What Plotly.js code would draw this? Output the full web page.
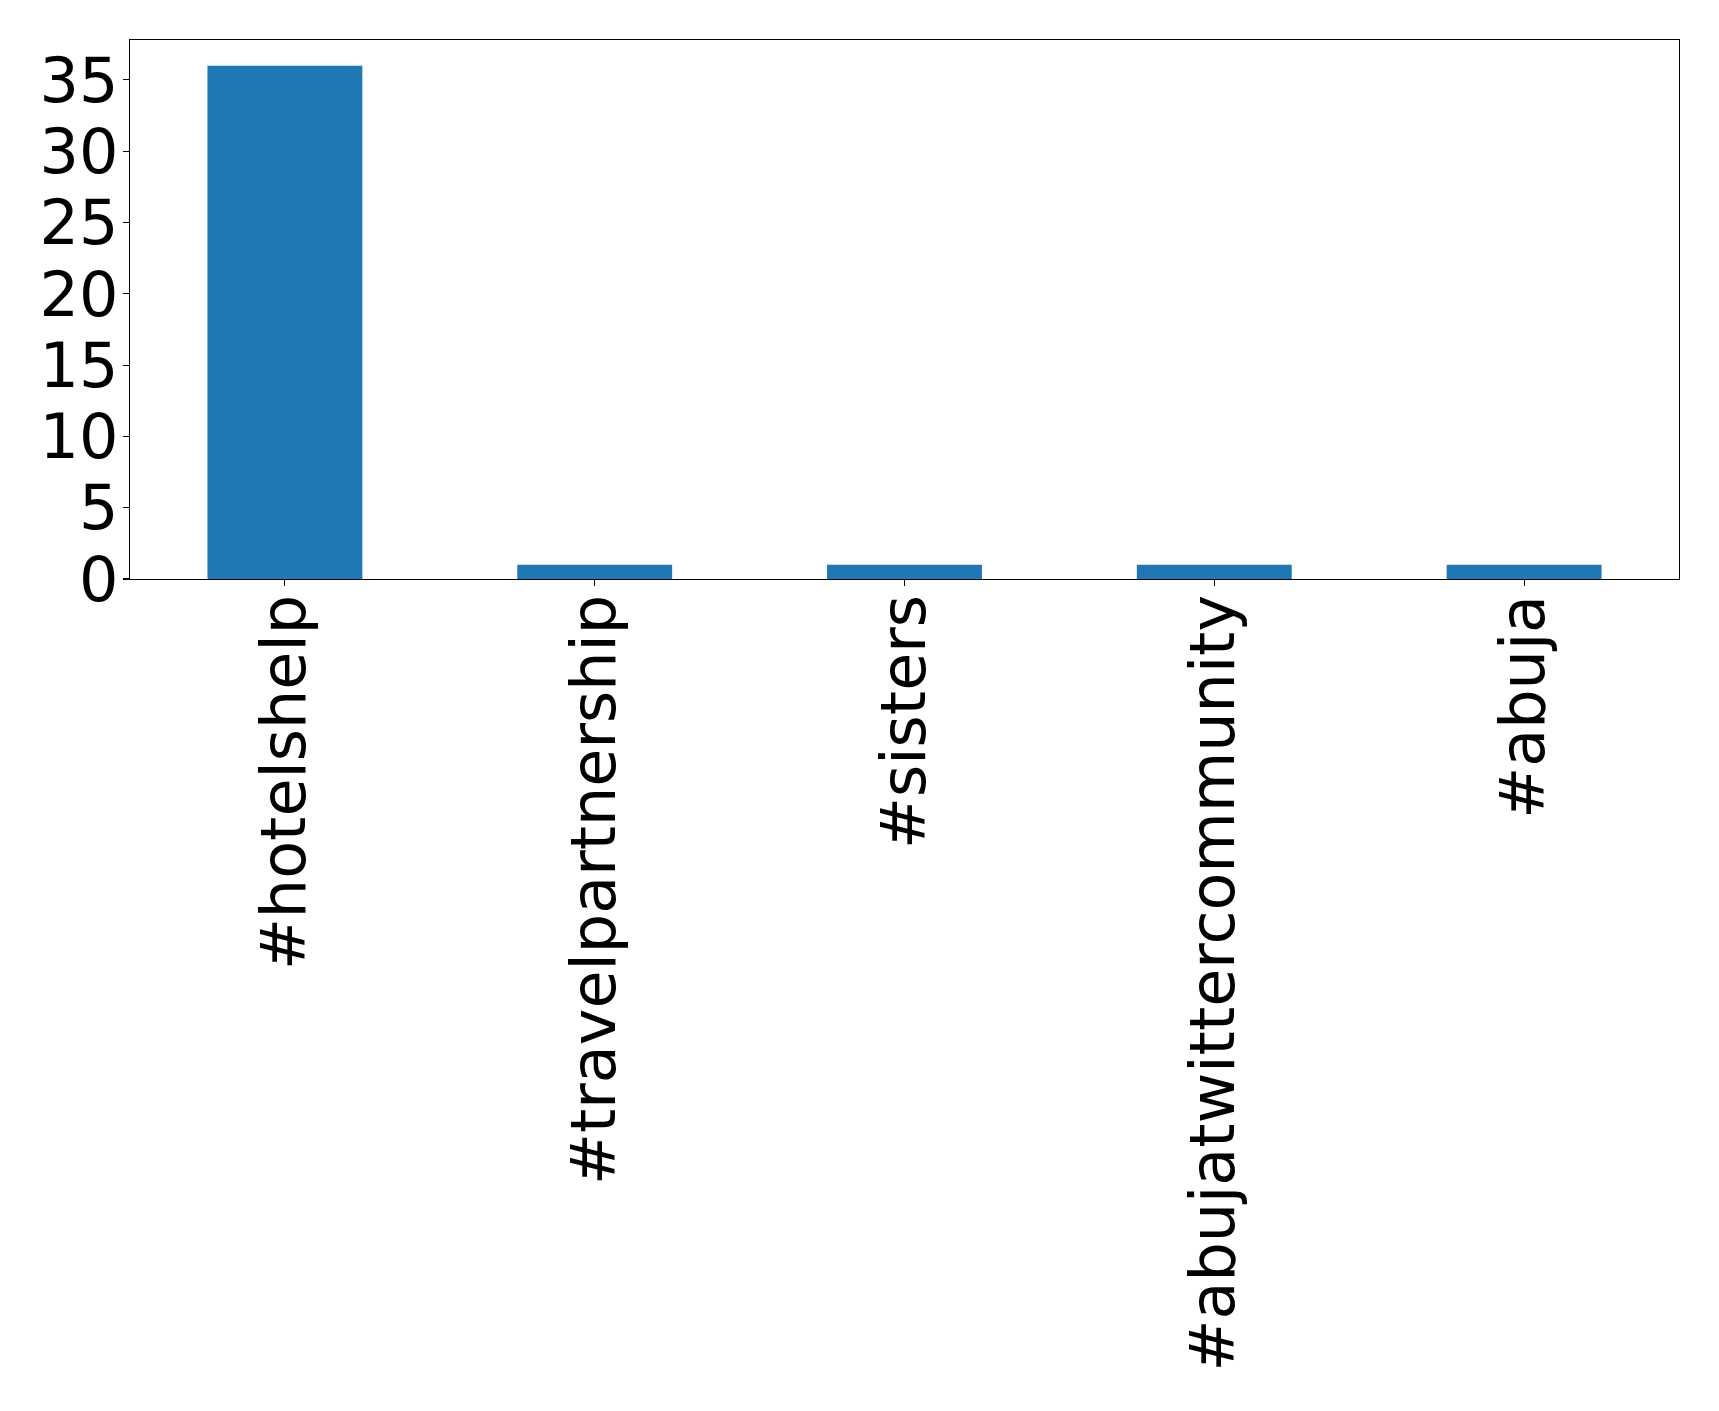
<!DOCTYPE html>
<html>
<head>
<meta charset="utf-8">
<script src="https://cdn.plot.ly/plotly-3.0.1.min.js"></script>
<style>html,body{margin:0;padding:0;background:#fff;}#chart{width:1719px;height:1411px;}</style>
</head>
<body>
<div id="chart"></div>
<script>
const categories = ["#hotelshelp", "#travelpartnership", "#sisters", "#abujatwittercommunity", "#abuja"];
const counts = [36, 1, 1, 1, 1];
const yTicks = [0, 5, 10, 15, 20, 25, 30, 35];

const trace = {
  type: "bar",
  x: categories,
  y: counts,
  width: 0.5,
  marker: {color: "#1f77b4", line: {width: 0}},
  hoverinfo: "x+y"
};

const axisFont = {family: "DejaVu Sans, sans-serif", size: 62, color: "#000"};

const layout = {
  width: 1719,
  height: 1411,
  margin: {l: 129.5, r: 39.7, t: 40.3, b: 832},
  paper_bgcolor: "#fff",
  plot_bgcolor: "#fff",
  showlegend: false,
  font: axisFont,
  xaxis: {
    type: "category",
    range: [-0.5, 4.5],
    tickangle: -90,
    tickfont: axisFont,
    ticks: "outside",
    ticklen: 6,
    tickwidth: 1.1,
    tickcolor: "#000",
    ticklabelstandoff: -16,
    showline: true,
    linecolor: "#000",
    linewidth: 1.1,
    mirror: true,
    showgrid: false,
    zeroline: false,
    automargin: false
  },
  yaxis: {
    range: [0, 37.8],
    tickmode: "array",
    tickvals: yTicks,
    ticktext: yTicks.map(String),
    tickfont: axisFont,
    ticks: "outside",
    ticklen: 6,
    tickwidth: 1.1,
    tickcolor: "#000",
    ticklabelstandoff: -8,
    showline: true,
    linecolor: "#000",
    linewidth: 1.1,
    mirror: true,
    showgrid: false,
    zeroline: false,
    automargin: false
  }
};

Plotly.newPlot("chart", [trace], layout, {staticPlot: true, displayModeBar: false});
</script>
</body>
</html>
